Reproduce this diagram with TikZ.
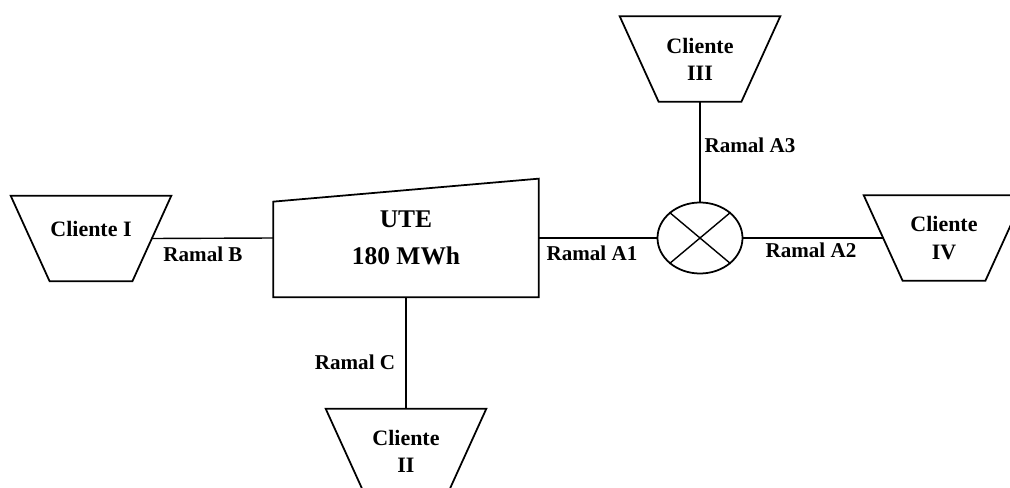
\documentclass[tikz,border=0pt]{standalone}
\usepackage{fontspec}
\setmainfont{Liberation Serif}
\usetikzlibrary{shapes.geometric}

\begin{document}
\begin{tikzpicture}[
    cliente/.style={minimum width=3.2cm, minimum height=1.7cm, inner sep=0pt, align=center,
      font=\fontsize{12.5}{15.5}\selectfont\bfseries},
    ramal/.style={font=\fontsize{12}{14}\selectfont\bfseries, inner sep=1pt},
    wire/.style={line width=0.8pt}
  ]
    \useasboundingbox (0,0) rectangle (20.2,-9.76);
    \clip (0,0) rectangle (20.2,-9.76);

    \node[cliente] (c1) at (1.82,-4.77) {\raisebox{11pt}{Cliente I}};
    \node[cliente] (c2) at (8.12,-9.03) {Cliente\\II};
    \node[cliente] (c3) at (14.0,-1.18) {Cliente\\III};
    \node[cliente] (c4) at (18.88,-4.76) {Cliente\\IV};
    % trapezios dos clientes
    \foreach \c in {c1,c2,c3,c4}
      \draw[line width=1pt] (\c.north west) -- (\c.north east) -- ([xshift=-0.78cm]\c.south east)
        -- ([xshift=0.78cm]\c.south west) -- cycle;

    \node[minimum width=5.3cm, minimum height=2.36cm, align=center,
      font=\fontsize{14.5}{21}\selectfont\bfseries] (ute) at (8.12,-4.76) {UTE\\180 MWh};
    \draw[line width=1pt] (ute.south west) -- ([yshift=-0.46cm]ute.north west)
      -- (ute.north east) -- (ute.south east) -- cycle;

    \node[ellipse, draw, line width=1pt, minimum width=1.7cm, minimum height=1.42cm] (sw) at (14.0,-4.76) {};
    \draw[line width=0.8pt] (sw.40) -- (sw.220) (sw.140) -- (sw.320);

    \draw[wire] ([xshift=-0.39cm]c1.east) -- (ute.west);
    \draw[wire] (ute.east) -- (sw.west);
    \draw[wire] (sw.east) -- ([xshift=0.39cm]c4.west);
    \draw[wire] (sw.north) -- (c3.south);
    \draw[wire] (ute.south) -- (c2.north);

    \node[ramal] (rb) at (4.06,-5.08) {Ramal B};
    \node[ramal] (ra1) at (11.84,-5.06) {Ramal A1};
    \node[ramal] (ra2) at (16.22,-5.0) {Ramal A2};
    \node[ramal] (ra3) at (15.0,-2.9) {Ramal A3};
    \node[ramal] (rc) at (7.1,-7.24) {Ramal C};
\end{tikzpicture}
\end{document}
